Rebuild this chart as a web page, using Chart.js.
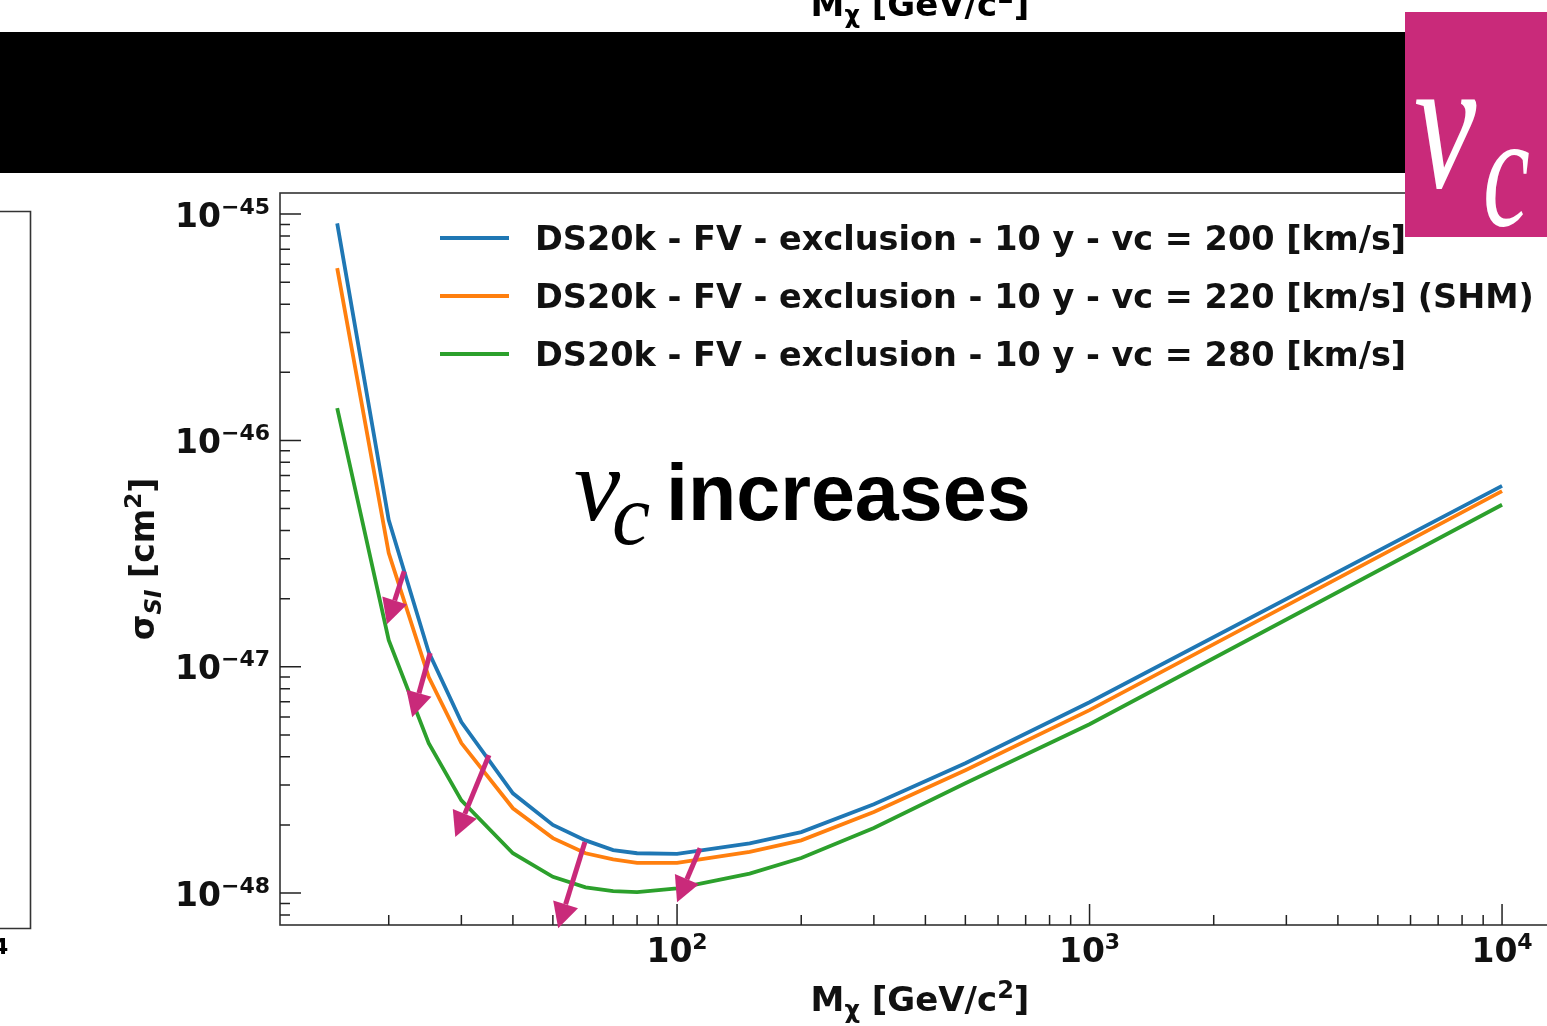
<!DOCTYPE html>
<html>
<head>
<meta charset="utf-8">
<script src="https://cdn.jsdelivr.net/npm/chart.js@4.4.0/dist/chart.umd.min.js"></script>
<style>
  html, body { margin: 0; padding: 0; background: #fff; overflow: hidden; }
  body { width: 1547px; height: 1026px; position: relative; }
  #wrap { position: absolute; left: 0; top: 0; width: 1560px; height: 1026px; }
  #slide { position: absolute; left: 0; top: 0; pointer-events: none; }
</style>
</head>
<body>
<div id="wrap"><canvas id="limitChart"></canvas></div>

<svg id="slide" width="1547" height="1026" xmlns="http://www.w3.org/2000/svg">
  <!-- cut-off axis title of the plot above -->
  <text x="920" y="16" text-anchor="middle" font-family="DejaVu Sans" font-weight="bold" font-size="34" fill="#000">M<tspan font-size="24" dy="7">χ</tspan><tspan dy="-7"> [GeV/c</tspan><tspan font-size="24" dy="-13">2</tspan><tspan dy="13">]</tspan></text>
  <rect x="0" y="32" width="1405" height="141" fill="#000"/>
  <rect x="1405" y="12" width="142" height="225" fill="#c92a7a"/>
  <text transform="translate(1414,187) scale(0.74,1)" font-family="Liberation Serif" font-style="italic" font-size="190" fill="#fff">v</text>
  <text transform="translate(1483,225) scale(0.66,1)" font-family="Liberation Serif" font-style="italic" font-size="160" fill="#fff">c</text>
  <!-- edge of the neighbouring plot -->
  <path d="M0 211.5 H30.5 V928.5 H0" fill="none" stroke="#333" stroke-width="1.6"/>
  <text x="-7" y="954" font-family="DejaVu Sans" font-weight="bold" font-size="22" fill="#000">4</text>
  <!-- annotation -->
  <text x="574" y="520" font-family="Liberation Serif" font-style="italic" font-size="104" fill="#000">v</text>
  <text x="612" y="544" font-family="Liberation Serif" font-style="italic" font-size="86" fill="#000">c</text>
  <text x="666" y="520" font-family="Liberation Sans" font-weight="bold" font-size="79" fill="#000">increases</text>
</svg>

<script>
// WIMP mass [GeV/c^2]
const massGeV = [15, 20, 25, 30, 40, 50, 60, 70, 80, 100, 150, 200, 300, 500, 1000, 10000];
// sigma_SI [cm^2] for each circular velocity
const sigmaVc200 = [9.1e-46, 4.45e-47, 1.16e-47, 5.7e-48, 2.76e-48, 2.0e-48, 1.71e-48, 1.55e-48, 1.50e-48, 1.49e-48, 1.66e-48, 1.86e-48, 2.47e-48, 3.75e-48, 6.97e-48, 6.3e-47];
const sigmaVc220 = [5.77e-46, 3.18e-47, 9.0e-48, 4.6e-48, 2.37e-48, 1.75e-48, 1.50e-48, 1.41e-48, 1.36e-48, 1.36e-48, 1.52e-48, 1.71e-48, 2.28e-48, 3.49e-48, 6.43e-48, 5.97e-47];
const sigmaVc280 = [1.39e-46, 1.31e-47, 4.6e-48, 2.57e-48, 1.50e-48, 1.18e-48, 1.06e-48, 1.02e-48, 1.01e-48, 1.05e-48, 1.22e-48, 1.43e-48, 1.94e-48, 3.06e-48, 5.57e-48, 5.2e-47];

const seriesLabels = [
  'DS20k - FV - exclusion - 10 y - vc = 200 [km/s]',
  'DS20k - FV - exclusion - 10 y - vc = 220 [km/s] (SHM)',
  'DS20k - FV - exclusion - 10 y - vc = 280 [km/s]'
];
const seriesColors = ['#1f77b4', '#ff7f0e', '#2ca02c'];

// tick labels: 10^exp
const xMajorTicks = [100, 1000, 10000];
const xTickExponents = ['2', '3', '4'];
const yMajorTicks = [1e-48, 1e-47, 1e-46, 1e-45];
const yTickExponents = ['\u221248', '\u221247', '\u221246', '\u221245'];

// magenta arrows (data coords): from -> to
const arrowFrom = [[21.8, 2.64e-47], [25.2, 1.15e-47], [35.0, 4.07e-48], [59.8, 1.68e-48], [113.7, 1.58e-48]];
const arrowTo = [[19.8, 1.54e-47], [22.8, 5.98e-48], [29.0, 1.77e-48], [51.5, 7.0e-49], [100, 9.12e-49]];

const X_MIN = 10.9, X_MAX = 13820;
const Y_MIN = 7.23e-49, Y_MAX = 1.239e-45;

function minorTicks(lo, hi) {
  const out = [];
  for (let d = Math.floor(Math.log10(lo)); d <= Math.ceil(Math.log10(hi)); d++) {
    for (let k = 2; k <= 9; k++) {
      const v = k * Math.pow(10, d);
      if (v > lo && v < hi) out.push(v);
    }
  }
  return out;
}

const INK = '#111';
const FONT = '"DejaVu Sans"';

function setFont(ctx, size, italic) {
  ctx.font = (italic ? 'italic ' : '') + 'bold ' + size + 'px ' + FONT;
}
function partsWidth(ctx, parts) {
  let w = 0;
  parts.forEach(p => { setFont(ctx, p.size, p.italic); w += ctx.measureText(p.t).width; });
  return w;
}
// draw a run of text pieces with baseline shifts; rotated => reads upward
function drawParts(ctx, parts, x, y, align, rotated) {
  ctx.save();
  ctx.translate(x, y);
  if (rotated) ctx.rotate(-Math.PI / 2);
  const w = partsWidth(ctx, parts);
  let cx = align === 'center' ? -w / 2 : (align === 'right' ? -w : 0);
  ctx.fillStyle = INK;
  ctx.textAlign = 'left';
  ctx.textBaseline = 'alphabetic';
  parts.forEach(p => {
    setFont(ctx, p.size, p.italic);
    ctx.fillText(p.t, cx, p.dy || 0);
    cx += ctx.measureText(p.t).width;
  });
  ctx.restore();
}
function powParts(exp) {
  return [{ t: '10', size: 33 }, { t: exp, size: 22, dy: -13 }];
}

const decor = {
  id: 'decor',
  afterDatasetsDraw(chart) {
    const ctx = chart.ctx;
    const a = chart.chartArea;
    const xs = chart.scales.x, ys = chart.scales.y;

    // frame
    ctx.save();
    ctx.strokeStyle = '#333';
    ctx.lineWidth = 1.6;
    ctx.strokeRect(a.left, a.top, a.right - a.left, a.bottom - a.top);

    // inward ticks
    ctx.strokeStyle = '#222';
    ctx.lineWidth = 1.5;
    ctx.beginPath();
    yMajorTicks.forEach(v => { const p = ys.getPixelForValue(v); ctx.moveTo(a.left, p); ctx.lineTo(a.left + 21, p); });
    minorTicks(Y_MIN, Y_MAX).forEach(v => { const p = ys.getPixelForValue(v); ctx.moveTo(a.left, p); ctx.lineTo(a.left + 10, p); });
    xMajorTicks.forEach(v => { const p = xs.getPixelForValue(v); ctx.moveTo(p, a.bottom); ctx.lineTo(p, a.bottom - 21); });
    minorTicks(X_MIN, X_MAX).forEach(v => { const p = xs.getPixelForValue(v); ctx.moveTo(p, a.bottom); ctx.lineTo(p, a.bottom - 10); });
    ctx.stroke();
    ctx.restore();

    // tick labels
    yMajorTicks.forEach((v, i) => {
      drawParts(ctx, powParts(yTickExponents[i]), a.left - 10, ys.getPixelForValue(v) + 12.5, 'right');
    });
    xMajorTicks.forEach((v, i) => {
      drawParts(ctx, powParts(xTickExponents[i]), xs.getPixelForValue(v), a.bottom + 37, 'center');
    });

    // axis titles
    drawParts(ctx, [
      { t: 'M', size: 34 }, { t: '\u03c7', size: 24, dy: 7 }, { t: ' [GeV/c', size: 34 },
      { t: '2', size: 24, dy: -13 }, { t: ']', size: 34 }
    ], (a.left + a.right) / 2, a.bottom + 86, 'center');
    drawParts(ctx, [
      { t: '\u03c3', size: 33 }, { t: 'SI', size: 23, dy: 7, italic: true }, { t: ' [cm', size: 33 },
      { t: '2', size: 23, dy: -13 }, { t: ']', size: 33 }
    ], 154, (a.top + a.bottom) / 2, 'center', true);

    // legend
    chart.data.datasets.forEach((ds, i) => {
      const ly = a.top + 45 + i * 58;
      ctx.save();
      ctx.strokeStyle = ds.borderColor;
      ctx.lineWidth = 3.8;
      ctx.beginPath();
      ctx.moveTo(a.left + 160, ly);
      ctx.lineTo(a.left + 229, ly);
      ctx.stroke();
      ctx.restore();
      drawParts(ctx, [{ t: ds.label, size: 33.5 }], a.left + 255, ly + 11.5, 'left');
    });

    // arrows
    ctx.save();
    ctx.strokeStyle = '#c92a7a';
    ctx.fillStyle = '#c92a7a';
    ctx.lineWidth = 5;
    arrowFrom.forEach((f, i) => {
      const x0 = xs.getPixelForValue(f[0]), y0 = ys.getPixelForValue(f[1]);
      const x1 = xs.getPixelForValue(arrowTo[i][0]), y1 = ys.getPixelForValue(arrowTo[i][1]);
      const ang = Math.atan2(y1 - y0, x1 - x0);
      const hl = 25, hw = 13;
      const bx = x1 - hl * Math.cos(ang), by = y1 - hl * Math.sin(ang);
      ctx.beginPath();
      ctx.moveTo(x0, y0);
      ctx.lineTo(bx, by);
      ctx.stroke();
      ctx.beginPath();
      ctx.moveTo(x1, y1);
      ctx.lineTo(bx + hw * Math.sin(ang), by - hw * Math.cos(ang));
      ctx.lineTo(bx - hw * Math.sin(ang), by + hw * Math.cos(ang));
      ctx.closePath();
      ctx.fill();
    });
    ctx.restore();
  }
};

const seriesValues = [sigmaVc200, sigmaVc220, sigmaVc280];

new Chart(document.getElementById('limitChart'), {
  type: 'line',
  data: {
    datasets: seriesValues.map((vals, i) => ({
      label: seriesLabels[i],
      data: massGeV.map((m, j) => ({ x: m, y: vals[j] })),
      borderColor: seriesColors[i],
      backgroundColor: seriesColors[i],
      borderWidth: 3.8,
      pointRadius: 0,
      tension: 0,
      fill: false,
      order: 3 - i
    }))
  },
  options: {
    responsive: true,
    maintainAspectRatio: false,
    animation: false,
    layout: { padding: { left: 280, top: 193, right: 0, bottom: 101 } },
    plugins: { legend: { display: false }, tooltip: { enabled: false } },
    scales: {
      x: { type: 'logarithmic', display: false, min: X_MIN, max: X_MAX, bounds: 'data' },
      y: { type: 'logarithmic', display: false, min: Y_MIN, max: Y_MAX, bounds: 'data' }
    }
  },
  plugins: [decor]
});
</script>
</body>
</html>
